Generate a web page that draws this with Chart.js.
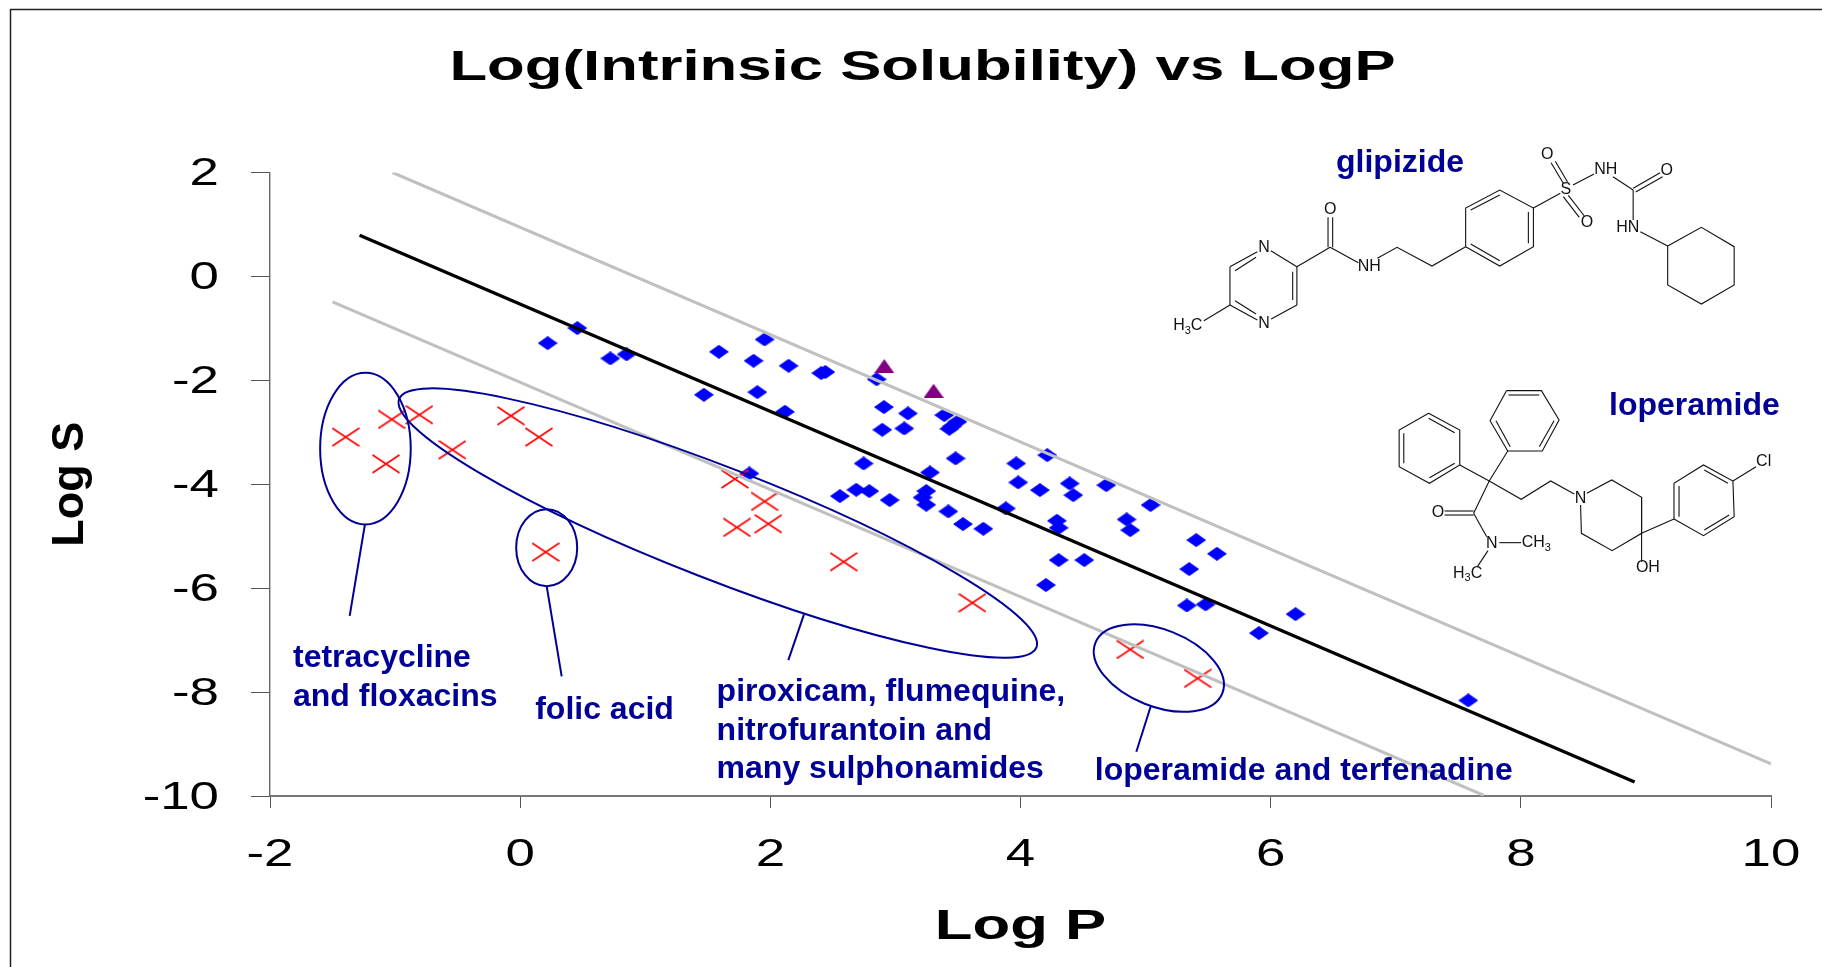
<!DOCTYPE html>
<html>
<head>
<meta charset="utf-8">
<title>Log(Intrinsic Solubility) vs LogP</title>
<style>html,body{margin:0;padding:0;background:#fff}canvas{display:block}</style>
<script src="https://cdn.jsdelivr.net/npm/chart.js@4/dist/chart.umd.min.js"></script>
</head>
<body>
<canvas id="c" width="1822" height="967"></canvas>
<script>
// ---- values ----
const xTickLabels = ['-2','0','2','4','6','8','10'];
const yTickLabels = ['2','0','-2','-4','-6','-8','-10'];

const blueLogP = [0.22,0.457,0.721,0.851,1.589,1.469,1.954,1.866,2.146,2.407,2.44,2.85,1.896,2.117,2.908,3.10,3.39,3.495,3.455,3.431,2.895,3.071,3.481,3.966,4.214,2.746,3.276,1.832,3.982,4.155,4.393,4.422,4.686,5.04,2.687,2.791,2.556,2.954,3.247,3.217,3.247,3.423,3.54,3.703,3.883,4.291,4.305,4.848,4.877,4.305,4.51,4.203,5.405,5.57,5.349,5.33,5.48,6.199,5.906,7.58];
const blueLogS = [-1.284,-0.995,-1.578,-1.50,-1.45,-2.278,-1.213,-1.624,-1.72,-1.861,-1.84,-1.98,-2.227,-2.605,-2.515,-2.637,-2.669,-2.798,-2.881,-2.933,-2.952,-2.926,-3.503,-3.6,-3.44,-3.6,-3.773,-3.792,-3.965,-4.113,-3.985,-4.21,-4.017,-4.40,-4.107,-4.132,-4.228,-4.305,-4.132,-4.254,-4.395,-4.523,-4.767,-4.857,-4.465,-4.703,-4.838,-4.677,-4.883,-5.46,-5.46,-5.94,-5.075,-5.338,-5.633,-6.333,-6.313,-6.50,-6.865,-8.16];

const triangleLogP = [2.911,3.305];
const triangleLogS = [-1.726,-2.20];

const crossLogP = [-1.395,-1.027,-0.806,-1.073,-0.542,-0.074,0.15,0.204,1.717,1.954,1.733,1.984,2.586,3.615,4.877,5.416];
const crossLogS = [-3.093,-2.752,-2.663,-3.607,-3.337,-2.682,-3.093,-5.306,-3.90,-4.33,-4.83,-4.761,-5.492,-6.281,-7.18,-7.737];

const fitLogP = [-1.284,8.91];
const fitLogS = [0.794,-9.73];
const upperLogP = [-1.02,10];
const upperLogS = [2.0,-9.38];
const lowerLogP = [-1.5,7.705];
const lowerLogS = [-0.489,-9.99];

const calloutTetraLogP = [-1.241,-1.363];
const calloutTetraLogS = [-4.773,-6.532];
const calloutFolicLogP = [0.212,0.332];
const calloutFolicLogS = [-5.96,-7.698];
const calloutPiroxLogP = [2.269,2.144];
const calloutPiroxLogS = [-6.505,-7.385];
const calloutLoperLogP = [5.04,4.926];
const calloutLoperLogS = [-8.283,-9.149];

// ---- annotation geometry ----
const NAVY = '#000096';
const ovals = [
  {x:-1.237,y:-3.314,a:45.3,b:75.8,rot:0},
  {x:1.58,y:-4.748,a:342,b:56,rot:21.3},
  {x:0.212,y:-5.22,a:30.5,b:38.5,rot:0},
  {x:5.106,y:-7.538,a:68.3,b:38.4,rot:21.7}
];
const notes = [
  ['tetracycline',293,667.2],['and floxacins',293,705.8],
  ['folic acid',535.2,719.2],
  ['piroxicam, flumequine,',716.6,701],['nitrofurantoin and',716.6,740],['many sulphonamides',716.6,777.7],
  ['loperamide and terfenadine',1094.8,780.3],
  ['glipizide',1336,172],['loperamide',1609,414.5]
];
// molecule sketches: polylines in a local drawing space (x/2.376+1150, y/3+130)
const glipizideLines = [
  [190,410,190,525],[190,410,255,365],[202,422,252,382],[287,362,349,410],[349,410,349,525],[339,425,339,510],
  [349,525,288,567],[190,525,255,570],[202,512,252,552],[190,525,128,572],[349,410,428,352],
  [423,352,423,262],[434,352,434,262],[428,352,495,398],[540,385,587,352,670,408,750,350],
  [750,350,750,234,831,180,911,234,911,350,831,408,750,350],[762,240,831,195],[899,246,899,340],[762,342,831,392],
  [911,234,975,190],[953,98,982,160],[963,94,992,156],[982,200,1020,262],[994,196,1032,258],
  [1005,165,1055,132],[1100,140,1148,180],[1148,175,1212,128],[1154,186,1218,140],[1148,180,1148,270],[1165,305,1230,348],
  [1230,348,1310,292,1388,350,1388,465,1310,522,1230,465,1230,348]
];
const loperamideLines = [
  [662,850,736,900,736,1005,664,1060,592,1010,592,900,662,850],[662,865,724,908],[724,1000,664,1043],[603,1000,603,910],
  [847,782,930,782,972,870,932,963,850,963,808,872,847,782],[852,795,925,795],[960,872,925,950],[822,872,856,950],
  [736,1005,806,1053],[850,963,806,1053,769,1150],[806,1053,882,1108,952,1053,1008,1092],
  [769,1143,700,1143],[769,1155,700,1155],[769,1150,800,1220],[830,1238,882,1238],[803,1262,778,1310],
  [1038,1090,1097,1050,1168,1102,1168,1210,1098,1262,1025,1210,1023,1125],[1168,1210,1245,1167],[1168,1102,1168,1295],
  [1245,1167,1245,1060,1315,1005,1385,1053,1388,1160,1315,1217,1245,1167],[1257,1160,1257,1068],[1317,1020,1373,1060],[1376,1155,1317,1200],
  [1385,1053,1440,1010]
];
const atomLabels = [
  ['O',428,240],['NH',521,410],['N',271,352],['N',271,580],['O',944,73],['S',988,180],['O',1038,277],['NH',1083,120],['O',1228,122],['HN',1135,293],
  ['O',684,1149],['N',812,1240],['N',1023,1105],['OH',1183,1312],['Cl',1458,994]
];
const subscriptLabels = [
  [['H','3','C'],55,588],[['CH','3'],883,1238],[['H','3','C'],720,1330]
];

// ---- helpers ----
const pts = (xs, ys) => xs.map((x, i) => ({x, y: ys[i]}));
function sprite(w, h, draw) {
  const c = document.createElement('canvas');
  c.width = Math.ceil(w); c.height = Math.ceil(h);
  draw(c.getContext('2d'), c.width, c.height);
  return c;
}
const diamond = sprite(20, 14, (g, w, h) => {
  g.fillStyle = '#0000ff'; g.beginPath();
  g.moveTo(w/2, 0); g.lineTo(w, h/2); g.lineTo(w/2, h); g.lineTo(0, h/2); g.closePath(); g.fill();
});
const triangle = sprite(20, 14, (g, w, h) => {
  g.fillStyle = '#800080'; g.beginPath();
  g.moveTo(w/2, 0); g.lineTo(w, h); g.lineTo(0, h); g.closePath(); g.fill();
});
const cross = sprite(28, 20, (g, w, h) => {
  g.strokeStyle = '#ff0000'; g.lineWidth = 1.6; g.beginPath();
  g.moveTo(0.5, 1); g.lineTo(w-0.5, h-1); g.moveTo(w-0.5, 1); g.lineTo(0.5, h-1); g.stroke();
});
const lineSet = (xs, ys, color, width, order) => ({
  type: 'scatter', showLine: true, data: pts(xs, ys), borderColor: color, borderWidth: width,
  pointRadius: 0, fill: false, order, borderCapStyle: 'butt'
});
const markSet = (label, xs, ys, style, order) => ({
  label, data: pts(xs, ys), pointStyle: style, pointRadius: 10, showLine: false,
  backgroundColor: 'rgba(0,0,0,0)', borderColor: 'rgba(0,0,0,0)', order
});

const STRETCH_BOLD = 1.435;
const STRETCH_TICK = 1.39;
const sketchX = v => v / 2.376 + 1150;
const sketchY = v => v / 3 + 130;

const sheet = {
  id: 'sheet',
  afterLayout(chart) {
    // the title is centred a little to the right of the canvas centre
    const t = chart.titleBlock;
    t.left = 23; t.right = 1822;
  },
  beforeDraw(chart) {
    const g = chart.ctx;
    g.save();
    g.strokeStyle = '#222'; g.lineWidth = 1.5; g.beginPath();
    g.moveTo(1822, 9.5); g.lineTo(10.5, 9.5); g.lineTo(10.5, 967); g.stroke();
    g.restore();
    // the original picture was widened: title and axis numbers are broad, rotated text is not
    const plain = CanvasRenderingContext2D.prototype.fillText;
    g.fillText = function (s, x, y, m) {
      const t = this.getTransform();
      if (Math.abs(t.b) > 0.01) return plain.call(this, s, x, y, m);
      const px = t.a * x + t.c * y + t.e, py = t.b * x + t.d * y + t.f;
      const k = this.font.indexOf('bold') === 0 ? STRETCH_BOLD : STRETCH_TICK;
      const dy = this.textAlign === 'right' ? 2.3 : 0;
      this.save();
      this.setTransform(new DOMMatrix().translate(px, py + dy).scale(k, 1).translate(-px, -py).multiply(t));
      plain.call(this, s, x, y, m);
      this.restore();
    };
  },
  afterDraw(chart) {
    const g = chart.ctx;
    delete g.fillText;
    const sx = chart.scales.x, sy = chart.scales.y;
    g.save();
    g.strokeStyle = NAVY; g.lineWidth = 2;
    ovals.forEach(o => {
      g.beginPath();
      g.ellipse(sx.getPixelForValue(o.x), sy.getPixelForValue(o.y), o.a, o.b, o.rot * Math.PI / 180, 0, Math.PI * 2);
      g.stroke();
    });
    g.fillStyle = NAVY; g.font = 'bold 32px "Liberation Sans"'; g.textAlign = 'left'; g.textBaseline = 'alphabetic';
    notes.forEach(n => g.fillText(n[0], n[1], n[2]));

    g.strokeStyle = '#111'; g.lineWidth = 1.1; g.lineJoin = 'miter';
    glipizideLines.concat(loperamideLines).forEach(l => {
      g.beginPath();
      for (let i = 0; i < l.length; i += 2) {
        if (i === 0) g.moveTo(sketchX(l[0]), sketchY(l[1])); else g.lineTo(sketchX(l[i]), sketchY(l[i + 1]));
      }
      g.stroke();
    });
    g.fillStyle = '#111'; g.font = '16px "Liberation Sans"'; g.textAlign = 'center'; g.textBaseline = 'middle';
    atomLabels.forEach(a => g.fillText(a[0], sketchX(a[1]), sketchY(a[2])));
    g.textAlign = 'left';
    subscriptLabels.forEach(a => {
      let x = sketchX(a[1]); const y = sketchY(a[2]);
      a[0].forEach(part => {
        const sub = part === '3';
        g.font = (sub ? '11px' : '16px') + ' "Liberation Sans"';
        g.fillText(part, x, sub ? y + 5 : y);
        x += g.measureText(part).width;
      });
    });
    g.restore();
  }
};

new Chart(document.getElementById('c'), {
  type: 'scatter',
  plugins: [sheet],
  data: {
    datasets: [
      lineSet(fitLogP, fitLogS, '#000000', 3.3, 1),
      lineSet(upperLogP, upperLogS, '#c0c0c0', 3, 2),
      lineSet(lowerLogP, lowerLogS, '#c0c0c0', 3, 2),
      lineSet(calloutTetraLogP, calloutTetraLogS, NAVY, 2, 1),
      lineSet(calloutFolicLogP, calloutFolicLogS, NAVY, 2, 1),
      lineSet(calloutPiroxLogP, calloutPiroxLogS, NAVY, 2, 1),
      lineSet(calloutLoperLogP, calloutLoperLogS, NAVY, 2, 1),
      markSet('blue', blueLogP, blueLogS, diamond, 5),
      markSet('triangle', triangleLogP, triangleLogS, triangle, 4),
      markSet('cross', crossLogP, crossLogS, cross, 3)
    ]
  },
  options: {
    responsive: false,
    animation: false,
    layout: {autoPadding: false, padding: {left: 0, top: 0, right: 51, bottom: 0}},
    plugins: {
      legend: {display: false},
      tooltip: {enabled: false},
      title: {
        display: true,
        text: 'Log(Intrinsic Solubility) vs LogP',
        color: '#000',
        font: {family: '"Liberation Sans"', size: 43, weight: 'bold', lineHeight: 1.2},
        padding: {top: 42.6, bottom: 78.3}
      }
    },
    scales: {
      x: {
        type: 'linear', min: -2, max: 10,
        afterFit: s => { s.height = 171; },
        afterBuildTicks: s => { s.ticks = xTickLabels.map(v => ({value: Number(v)})); },
        border: {color: '#777', width: 2},
        grid: {drawOnChartArea: false, drawTicks: true, tickLength: 12, tickColor: '#555', tickWidth: 1},
        ticks: {color: '#000', maxRotation: 0, autoSkip: false, padding: 25, font: {family: '"Liberation Sans"', size: 38},
          callback: v => String(v)},
        title: {display: true, text: 'Log P', color: '#000', padding: {top: 0, bottom: 14.2},
          font: {family: '"Liberation Sans"', size: 43, weight: 'bold'}}
      },
      y: {
        type: 'linear', min: -10, max: 2,
        afterFit: s => { s.width = 270; },
        afterBuildTicks: s => { s.ticks = yTickLabels.map(v => ({value: Number(v)})); },
        border: {color: '#666', width: 1.4},
        grid: {drawOnChartArea: false, drawTicks: true, tickLength: 19, tickColor: '#555', tickWidth: 1},
        ticks: {color: '#000', autoSkip: false, padding: 32, font: {family: '"Liberation Sans"', size: 38},
          callback: v => String(v)},
        title: {display: true, text: 'Log S', color: '#000', padding: {top: 44, bottom: 0},
          font: {family: '"Liberation Sans"', size: 45, weight: 'bold'}}
      }
    }
  }
});
</script>
</body>
</html>
